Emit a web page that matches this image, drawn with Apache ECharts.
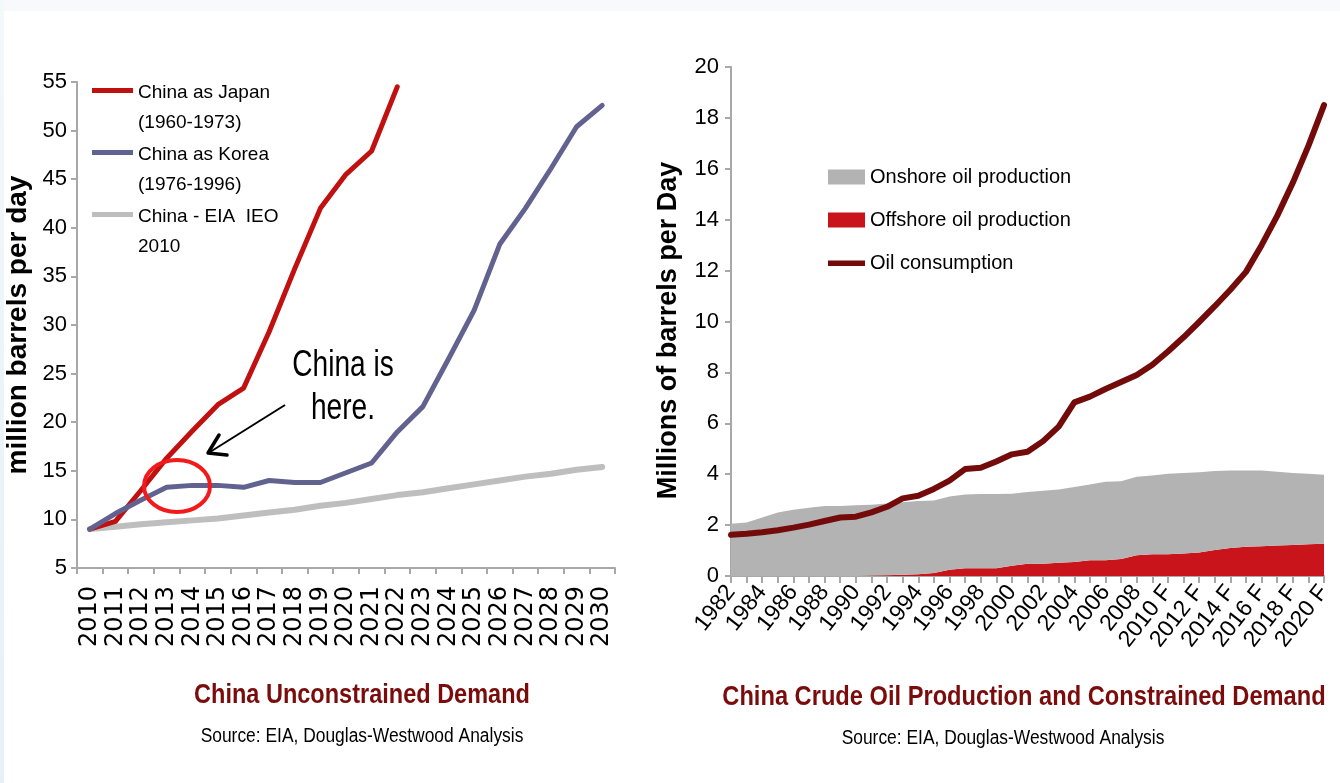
<!DOCTYPE html>
<html><head><meta charset="utf-8">
<script src="https://cdn.jsdelivr.net/npm/echarts/dist/echarts.min.js"></script>
<style>
html,body{margin:0;padding:0;background:#fff;}
#bgTop{position:absolute;left:0;top:0;width:1340px;height:11px;background:#F8F9FD;}
#bgLeft{position:absolute;left:0;top:0;width:4px;height:783px;background:linear-gradient(#F3F8FA,#E6F0F5);}
#c{position:absolute;left:0;top:0;width:1340px;height:783px;}
</style></head>
<body>
<div id="bgTop"></div><div id="bgLeft"></div>
<div id="c"></div>
<script>
// ---------- Left chart data ----------
const leftYears = ['2010','2011','2012','2013','2014','2015','2016','2017','2018','2019','2020','2021','2022','2023','2024','2025','2026','2027','2028','2029','2030'];
const japanSeries = [9.0, 9.8, 13.0, 16.3, 19.1, 21.8, 23.5, 29.3, 35.8, 42.0, 45.5, 47.9, 54.5];
const koreaSeries = [9.0, 10.6, 12.0, 13.3, 13.5, 13.5, 13.3, 14.0, 13.8, 13.8, 14.8, 15.8, 19.0, 21.6, 26.5, 31.5, 38.3, 42.0, 46.1, 50.4, 52.6];
const eiaSeries   = [9.0, 9.25, 9.5, 9.7, 9.9, 10.1, 10.4, 10.7, 11.0, 11.4, 11.7, 12.1, 12.5, 12.8, 13.2, 13.6, 14.0, 14.4, 14.7, 15.1, 15.4];
const leftNames = ['China as Japan (1960-1973)', 'China as Korea (1976-1996)', 'China - EIA  IEO 2010'];
const leftLegendLabels = ['China as Japan\n(1960-1973)', 'China as Korea\n(1976-1996)', 'China - EIA  IEO\n2010'];

// ---------- Right chart data ----------
const rightYears = ['1982','1983','1984','1985','1986','1987','1988','1989','1990','1991','1992','1993','1994','1995','1996','1997','1998','1999','2000','2001','2002','2003','2004','2005','2006','2007','2008','2009','2010 F','2011 F','2012 F','2013 F','2014 F','2015 F','2016 F','2017 F','2018 F','2019 F','2020 F'];
const onshoreSeries  = [2.05, 2.10, 2.30, 2.50, 2.60, 2.68, 2.75, 2.75, 2.78, 2.78, 2.82, 2.85, 2.88, 2.85, 2.87, 2.90, 2.92, 2.92, 2.83, 2.82, 2.87, 2.88, 2.95, 2.98, 3.08, 3.05, 3.08, 3.10, 3.17, 3.17, 3.16, 3.11, 3.05, 3.00, 2.98, 2.90, 2.83, 2.77, 2.71];
const offshoreSeries = [0, 0, 0, 0, 0, 0, 0, 0, 0, 0.02, 0.03, 0.05, 0.07, 0.12, 0.25, 0.30, 0.30, 0.30, 0.40, 0.48, 0.48, 0.52, 0.55, 0.62, 0.62, 0.67, 0.82, 0.85, 0.85, 0.88, 0.92, 1.02, 1.10, 1.15, 1.17, 1.20, 1.22, 1.25, 1.27];
const consumptionSeries = [1.62, 1.66, 1.72, 1.80, 1.90, 2.02, 2.16, 2.30, 2.33, 2.50, 2.72, 3.05, 3.15, 3.42, 3.75, 4.20, 4.25, 4.50, 4.78, 4.88, 5.30, 5.87, 6.82, 7.05, 7.35, 7.62, 7.90, 8.30, 8.82, 9.38, 9.98, 10.60, 11.25, 11.95, 13.00, 14.15, 15.45, 16.90, 18.50];
const rightNames = ['Onshore oil production', 'Offshore oil production', 'Oil consumption'];

const SANS = "'Liberation Sans',Arial,sans-serif";
const AXIS_GRAY = '#A8A8A8';
// legend icons: a bar near the top of a tall box (so it lines up with the first text line)
const LEFT_ICON = 'path://M0,0H41V0.02H0Z M0,10H41V15H0Z M0,59.98H41V60H0Z';
const LINE_ICON = 'path://M0,0H38V0.02H0Z M0,5H38V10.5H0Z M0,14.98H38V15H0Z';

const chart = echarts.init(document.getElementById('c'), null, {renderer: 'canvas'});

const option = {
  backgroundColor: 'transparent',
  animation: false,
  grid: [
    {left: 77, top: 82, width: 538, height: 486, outerBoundsMode: 'none', containLabel: false},
    {left: 731, top: 67, width: 593, height: 509, outerBoundsMode: 'none', containLabel: false}
  ],
  legend: [
    {
      data: leftNames,
      icon: LEFT_ICON, symbolKeepAspect: false,
      left: 92, top: 78, orient: 'vertical', padding: 0,
      itemWidth: 41, itemHeight: 60, itemGap: 2,
      formatter: n => leftLegendLabels[leftNames.indexOf(n)],
      textStyle: {fontFamily: SANS, fontSize: 19, lineHeight: 30, color: '#000'},
      selectedMode: false
    },
    {
      data: [
        {name: rightNames[0], icon: 'rect'},
        {name: rightNames[1], icon: 'rect'},
        {name: rightNames[2], icon: LINE_ICON}
      ],
      symbolKeepAspect: false,
      left: 828, top: 165, orient: 'vertical', padding: 0,
      itemWidth: 37, itemHeight: 15, itemGap: 19,
      textStyle: {fontFamily: SANS, fontSize: 20, lineHeight: 24, color: '#000'},
      selectedMode: false
    }
  ],
  xAxis: [
    {
      type: 'category', gridIndex: 0, data: leftYears, boundaryGap: true,
      axisLine: {lineStyle: {color: AXIS_GRAY, width: 2}},
      axisTick: {show: true, length: 6, lineStyle: {color: AXIS_GRAY, width: 2}},
      axisLabel: {interval: 0, rotate: 90, margin: 18, color: '#000', fontFamily: "'DejaVu Sans',sans-serif", fontSize: 24, hideOverlap: false},
      splitLine: {show: false}
    },
    {
      type: 'category', gridIndex: 1, data: rightYears, boundaryGap: false,
      axisLine: {lineStyle: {color: AXIS_GRAY, width: 2}},
      axisTick: {show: true, interval: 0, length: 7, lineStyle: {color: AXIS_GRAY, width: 2}},
      axisLabel: {interval: 1, rotate: 52, margin: 12, color: '#000', fontFamily: SANS, fontSize: 23, hideOverlap: false},
      splitLine: {show: false}
    }
  ],
  yAxis: [
    {
      type: 'value', gridIndex: 0, min: 5, max: 55, interval: 5,
      name: 'million barrels per day', nameLocation: 'middle', nameGap: 45,
      nameTextStyle: {fontFamily: SANS, fontWeight: 'bold', fontSize: 28, color: '#000'},
      axisLine: {show: true, lineStyle: {color: AXIS_GRAY, width: 2}},
      axisTick: {show: true, length: 6, lineStyle: {color: AXIS_GRAY, width: 2}},
      axisLabel: {margin: 10, color: '#000', fontFamily: SANS, fontSize: 22},
      splitLine: {show: false}
    },
    {
      type: 'value', gridIndex: 1, min: 0, max: 20, interval: 2,
      name: 'Millions of barrels per Day', nameLocation: 'middle', nameGap: 49,
      nameTextStyle: {fontFamily: SANS, fontWeight: 'bold', fontSize: 27, color: '#000', padding: [0, 18, 0, 0]},
      axisLine: {show: true, lineStyle: {color: AXIS_GRAY, width: 2}},
      axisTick: {show: true, length: 6, lineStyle: {color: AXIS_GRAY, width: 2}},
      axisLabel: {margin: 12, color: '#000', fontFamily: SANS, fontSize: 22},
      splitLine: {show: false}
    }
  ],
  series: [
    {
      name: leftNames[0], type: 'line', xAxisIndex: 0, yAxisIndex: 0, data: japanSeries,
      symbol: 'none', color: '#C0100F', z: 3,
      lineStyle: {width: 5, color: '#C0100F', cap: 'round', join: 'round'}
    },
    {
      name: leftNames[1], type: 'line', xAxisIndex: 0, yAxisIndex: 0, data: koreaSeries,
      symbol: 'none', color: '#626290', z: 4,
      lineStyle: {width: 5, color: '#626290', cap: 'round', join: 'round'}
    },
    {
      name: leftNames[2], type: 'line', xAxisIndex: 0, yAxisIndex: 0, data: eiaSeries,
      symbol: 'none', color: '#BEBEBE', z: 2,
      lineStyle: {width: 6, color: '#BEBEBE', cap: 'round', join: 'round'}
    },
    {
      name: rightNames[1], type: 'line', xAxisIndex: 1, yAxisIndex: 1, data: offshoreSeries,
      stack: 'prod', symbol: 'none', color: '#C8141A',
      itemStyle: {color: '#C8141A'},
      lineStyle: {width: 0}, areaStyle: {color: '#C8141A', opacity: 1}
    },
    {
      name: rightNames[0], type: 'line', xAxisIndex: 1, yAxisIndex: 1, data: onshoreSeries,
      stack: 'prod', symbol: 'none', color: '#B3B3B3',
      itemStyle: {color: '#B3B3B3'},
      lineStyle: {width: 0}, areaStyle: {color: '#B3B3B3', opacity: 1}
    },
    {
      name: rightNames[2], type: 'line', xAxisIndex: 1, yAxisIndex: 1, data: consumptionSeries,
      symbol: 'none', color: '#730B0B', z: 5,
      lineStyle: {width: 6, color: '#730B0B', cap: 'round', join: 'round'}
    }
  ],
  graphic: [
    // annotation: "China is here."
    {type: 'text', z: 10, x: 343, y: 388, scaleX: 0.78, style: {text: 'China is\nhere.', x: 0, y: 0, align: 'center', verticalAlign: 'middle', fontFamily: SANS, fontSize: 36, lineHeight: 43, fill: '#000'}},
    {type: 'polyline', z: 10, shape: {points: [[285, 405], [210, 452]]}, style: {stroke: '#000', lineWidth: 2, fill: null}},
    {type: 'polyline', z: 10, shape: {points: [[219, 435], [208, 453], [227, 455]]}, style: {stroke: '#000', lineWidth: 3.5, fill: null, lineJoin: 'round', lineCap: 'round'}},
    {type: 'ellipse', z: 10, shape: {cx: 177, cy: 486, rx: 33, ry: 26}, style: {stroke: '#F21B1B', lineWidth: 4, fill: null}},
    // titles and sources
    {type: 'text', x: 362, y: 695, scaleX: 0.84, style: {text: 'China Unconstrained Demand', x: 0, y: 0, align: 'center', verticalAlign: 'middle', fontFamily: SANS, fontWeight: 'bold', fontSize: 28, fill: '#7B0C0C'}},
    {type: 'text', x: 362, y: 736, scaleX: 0.87, style: {text: 'Source: EIA, Douglas-Westwood Analysis', x: 0, y: 0, align: 'center', verticalAlign: 'middle', fontFamily: SANS, fontSize: 20, fill: '#000'}},
    {type: 'text', x: 1024, y: 697, scaleX: 0.845, style: {text: 'China Crude Oil Production and Constrained Demand', x: 0, y: 0, align: 'center', verticalAlign: 'middle', fontFamily: SANS, fontWeight: 'bold', fontSize: 28, fill: '#7B0C0C'}},
    {type: 'text', x: 1003, y: 738, scaleX: 0.87, style: {text: 'Source: EIA, Douglas-Westwood Analysis', x: 0, y: 0, align: 'center', verticalAlign: 'middle', fontFamily: SANS, fontSize: 20, fill: '#000'}}
  ]
};
chart.setOption(option);
</script>
</body></html>
